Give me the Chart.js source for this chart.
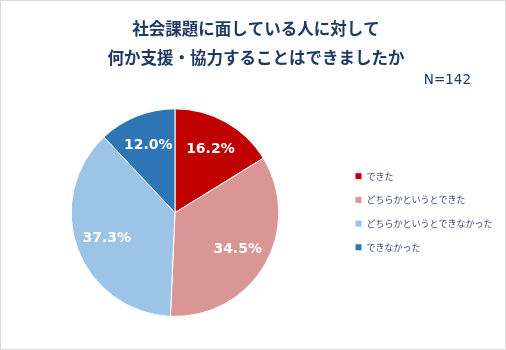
<!DOCTYPE html>
<html lang="ja">
<head>
<meta charset="utf-8">
<script src="https://cdn.jsdelivr.net/npm/chart.js@4.4.1/dist/chart.umd.min.js"></script>
<style>
  html, body { margin: 0; padding: 0; background: #fff; }
  .frame { width: 506px; height: 350px; box-sizing: border-box; border: 1px solid #d9d9d9; }
  canvas { display: block; }
</style>
</head>
<body>
<div class="frame"><canvas id="chart" width="504" height="348"></canvas></div>
<script>
const titleLines = ["社会課題に面している人に対して", "何か支援・協力することはできましたか"];
const sampleLabel = "N=142";
const categories = ["できた", "どちらかというとできた", "どちらかというとできなかった", "できなかった"];
const shares = [16.2, 34.5, 37.3, 12.0];
const sliceColors = ["#C00000", "#D99694", "#9DC3E6", "#2E75B6"];

const jpFont = "'Noto Sans CJK JP', 'Noto Sans', sans-serif";
const navy = "#1F3864";

// ラベル描画（パーセント表示と N= 表示）
const sliceLabels = {
    id: "sliceLabels",
    afterDatasetsDraw(chart) {
        const ctx = chart.ctx;
        const meta = chart.getDatasetMeta(0);
        ctx.save();
        ctx.fillStyle = "#fff";
        ctx.font = "bold 14px 'DejaVu Sans', Verdana, sans-serif";
        ctx.textAlign = "center";
        ctx.textBaseline = "middle";
        meta.data.forEach((arc, i) => {
            const p = arc.getProps(["x", "y", "startAngle", "endAngle", "outerRadius"], true);
            const mid = (p.startAngle + p.endAngle) / 2;
            const r = p.outerRadius * 0.7;
            ctx.fillText(shares[i].toFixed(1) + "%", p.x + Math.cos(mid) * r, p.y + Math.sin(mid) * r);
        });
        ctx.fillStyle = navy;
        ctx.font = "13.5px 'DejaVu Sans', Verdana, sans-serif";
        ctx.textAlign = "right";
        ctx.textBaseline = "alphabetic";
        ctx.fillText(sampleLabel, chart.width - 34, 83);
        ctx.restore();
    },
};

new Chart(document.getElementById("chart"), {
    type: "pie",
    data: {
        labels: categories,
        datasets: [
            {
                data: shares,
                backgroundColor: sliceColors,
                borderColor: "#fff",
                borderWidth: 1,
            },
        ],
    },
    options: {
        responsive: false,
        animation: false,
        layout: { padding: { left: 8.7, right: 2.5, top: 0, bottom: 32 } },
        plugins: {
            title: {
                display: true,
                text: titleLines,
                color: navy,
                font: { family: jpFont, size: 16.5, weight: "bold", lineHeight: 1.75 },
                padding: { top: 13.6, bottom: 36 },
            },
            legend: {
                position: "right",
                align: "start",
                title: {
                    display: true,
                    text: "",
                    font: { size: 1, lineHeight: 1 },
                    padding: { top: 155, bottom: 0 },
                },
                labels: {
                    boxWidth: 7,
                    boxHeight: 7,
                    padding: 14.7,
                    color: "#3C4B7C",
                    font: { family: jpFont, size: 9 },
                },
            },
            tooltip: { enabled: false },
        },
    },
    plugins: [sliceLabels],
});
</script>
</body>
</html>
